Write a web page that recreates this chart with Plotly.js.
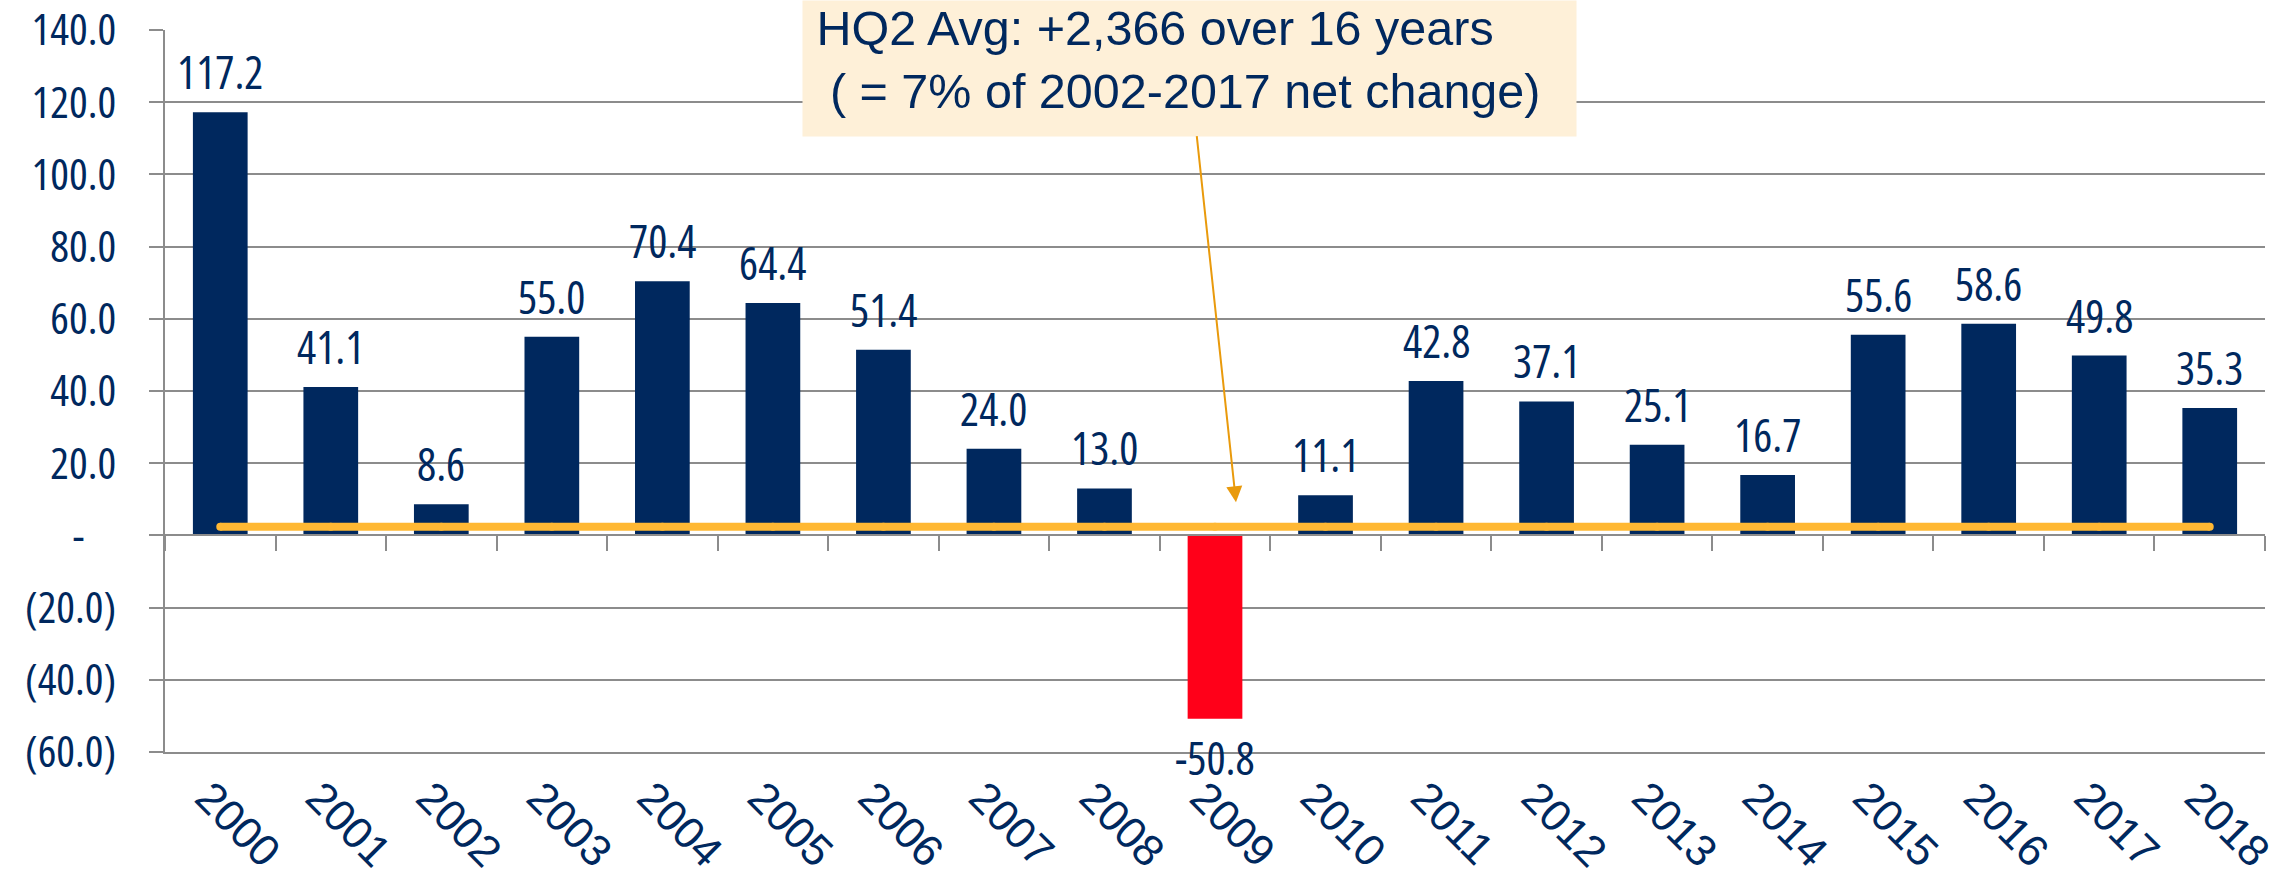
<!DOCTYPE html>
<html>
<head>
<meta charset="utf-8">
<script src="https://cdn.plot.ly/plotly-3.0.1.min.js"></script>
<style>html,body{margin:0;padding:0;background:#fff;}#chart{width:2293px;height:881px;}
/* condensed look for axis and value labels (Open Sans has a width axis) */
text[style*="Open Sans"]{font-stretch:82%;}
</style>
</head>
<body>
<div id="chart"></div>
<script>
// ---- data ----
const years = ['2000','2001','2002','2003','2004','2005','2006','2007','2008','2009',
               '2010','2011','2012','2013','2014','2015','2016','2017','2018'];
const netChange = [117.2, 41.1, 8.6, 55.0, 70.4, 64.4, 51.4, 24.0, 13.0, -50.8,
                   11.1, 42.8, 37.1, 25.1, 16.7, 55.6, 58.6, 49.8, 35.3];
const hq2Avg = 2.366;
const yTickVals = [140, 120, 100, 80, 60, 40, 20, 0, -20, -40, -60];
const yTickText = ['140.0','120.0','100.0','80.0','60.0','40.0','20.0','-\u00A0\u00A0\u00A0\u2009','(20.0)','(40.0)','(60.0)'];
const annText = '\u00A0HQ2 Avg: +2,366 over 16 years<br>\u00A0\u00A0( = 7% of 2002-2017 net change)';

// ---- styles ----
const NAVY = '#00285E';
const RED = '#FF0019';
const ORANGE = '#FFB833';
const GRID = '#8C8C8C';
const NARROW = '"Open Sans", "Liberation Sans", Arial, sans-serif';
const SANS = '"Liberation Sans", Arial, sans-serif';

const bars = {
  type: 'bar', x: years, y: netChange, xaxis: 'x', yaxis: 'y',
  marker: {color: netChange.map(v => v < 0 ? RED : NAVY)},
  hoverinfo: 'skip', showlegend: false
};
const avgLine = {
  type: 'scatter', mode: 'lines+markers', x: years, y: years.map(() => hq2Avg),
  xaxis: 'x2', yaxis: 'y',
  line: {color: ORANGE, width: 8},
  marker: {color: ORANGE, size: 8},
  hoverinfo: 'skip', showlegend: false
};

const annotations = netChange.map((v, i) => ({
  x: i, y: v, xref: 'x', yref: 'y',
  text: v.toFixed(1), showarrow: false,
  yanchor: v >= 0 ? 'bottom' : 'top',
  yshift: v >= 0 ? 8 : -6,
  font: {family: NARROW, size: 45, color: NAVY}
}));
annotations.push({
  x: 9.19, y: 9.2, xref: 'x', yref: 'y',
  ax: -46.5, ay: -434, axref: 'pixel', ayref: 'pixel',
  showarrow: true, arrowhead: 2, arrowsize: 1.6, arrowwidth: 2, arrowcolor: '#E99A0C',
  text: annText, align: 'left', valign: 'top',
  width: 773, height: 135, borderpad: 0,
  bgcolor: '#FEF0D8',
  font: {family: SANS, size: 48.5, color: NAVY}
});

const layout = {
  width: 2293, height: 881,
  margin: {l: 165, r: 28, t: 30, b: 129.3, pad: 0},
  paper_bgcolor: '#fff', plot_bgcolor: '#fff',
  bargap: 0.505,
  font: {family: NARROW, color: NAVY},
  xaxis: {
    type: 'category', categoryorder: 'array', categoryarray: years,
    range: [-0.5, 18.5], showgrid: false, zeroline: false,
    showline: true, linecolor: GRID, linewidth: 2,
    ticks: '', tickangle: 45, ticklabelstandoff: 0, ticklabelshift: -12,
    ticklabeloverflow: 'allow',
    tickfont: {family: SANS, size: 44, color: NAVY}
  },
  xaxis2: {
    type: 'category', categoryorder: 'array', categoryarray: years,
    overlaying: 'x', anchor: 'free', position: 0.3, side: 'bottom',
    range: [-0.5, 18.5], showgrid: false, zeroline: false,
    showline: true, linecolor: GRID, linewidth: 2,
    ticks: 'outside', tickson: 'boundaries', ticklen: 15, tickwidth: 2, tickcolor: GRID,
    showticklabels: false
  },
  yaxis: {
    range: [-60, 140], tickmode: 'array', tickvals: yTickVals, ticktext: yTickText,
    showgrid: true, gridcolor: GRID, gridwidth: 2, zeroline: false,
    showline: true, linecolor: GRID, linewidth: 2,
    ticks: 'outside', ticklen: 14, tickwidth: 2, tickcolor: GRID,
    ticklabelstandoff: 24, ticklabeloverflow: 'allow',
    tickfont: {family: NARROW, size: 44, color: NAVY}
  },
  annotations: annotations
};

Plotly.newPlot('chart', [bars, avgLine], layout, {staticPlot: true, displayModeBar: false});
</script>
</body>
</html>
